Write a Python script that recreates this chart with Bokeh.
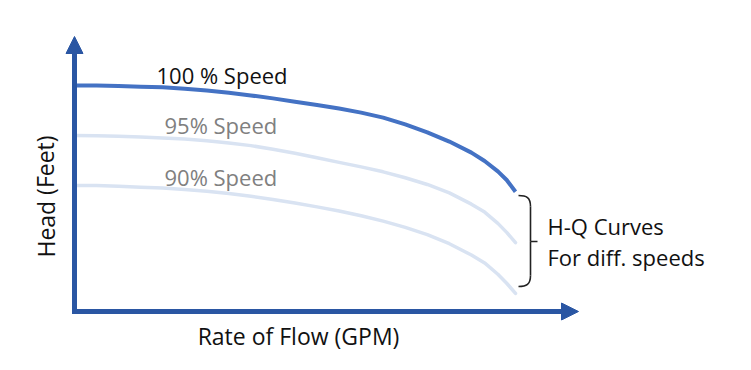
from bokeh.plotting import figure
from bokeh.models import Range1d, Label, Arrow, NormalHead
from bokeh.embed import file_html
from bokeh.resources import INLINE

# ---- data (flow in % of max, head in % of shut-off head at 100 % speed) ----
flow = [0, 5, 10, 15, 20, 25, 30, 35, 40, 45, 50, 55, 60, 65, 70, 75, 80, 85, 90, 93, 96, 98, 100]
head_100 = [100.0, 99.95, 99.8, 99.5, 99.2, 98.6, 97.8, 96.8, 95.6, 94.3, 92.8, 91.4, 89.8,
            88.0, 85.8, 82.8, 79.3, 75.2, 70.3, 66.6, 62.0, 58.2, 53.0]
head_95 = [77.9, 77.8, 77.5, 77.2, 76.8, 76.3, 75.6, 74.6, 73.4, 71.8, 70.0, 68.0, 66.0,
           64.0, 61.8, 59.2, 56.2, 52.5, 47.5, 44.0, 39.0, 35.0, 30.5]
head_90 = [55.8, 55.7, 55.4, 55.0, 54.6, 54.0, 53.2, 52.2, 51.0, 49.6, 48.0, 46.3, 44.5,
           42.4, 40.0, 37.2, 34.0, 30.0, 25.0, 21.5, 16.5, 12.5, 8.0]
curve_labels = ["100 % Speed", "95% Speed", "90% Speed"]
x_title = "Rate of Flow (GPM)"
y_title = "Head (Feet)"
note_lines = ["H-Q Curves", "For diff. speeds"]

FONT = "Open Sans"
AXIS_C = "#2A56A3"
MAIN_C = "#4472C4"
LIGHT_C = "#D9E3F2"
TXT_DY = 9  # renderer places the alphabetic baseline this much lower

# helpers: convert reference picture pixels into data units for decorations
def fx(px):
    return (px - 74) / 4.41

def fy(py):
    return (311 - py) / 2.26

W, H = 735, 354
p = figure(width=W, height=H, output_backend="svg", toolbar_location=None,
           x_range=Range1d(fx(0), fx(W)), y_range=Range1d(fy(H), fy(0)),
           min_border=0, outline_line_color=None)
p.axis.visible = False
p.grid.visible = False
p.background_fill_color = "white"
p.border_fill_color = "white"

# curves
p.line(flow, head_90, line_color=LIGHT_C, line_width=3.5, line_cap="round", line_join="round")
p.line(flow, head_95, line_color=LIGHT_C, line_width=3.5, line_cap="round", line_join="round")
p.line(flow, head_100, line_color=MAIN_C, line_width=4, line_join="round")

# axes with arrow heads
x_tip, y_tip = fx(578), fy(36)
p.line([0, 0, fx(566)], [fy(52), 0, 0], line_color=AXIS_C, line_width=5, line_join="miter")
p.add_layout(Arrow(end=NormalHead(size=17, fill_color=AXIS_C, line_color=AXIS_C, line_width=1),
                   x_start=0, y_start=fy(60), x_end=0, y_end=y_tip,
                   line_alpha=0))
p.add_layout(Arrow(end=NormalHead(size=17, fill_color=AXIS_C, line_color=AXIS_C, line_width=1),
                   x_start=fx(560), y_start=0, x_end=x_tip, y_end=0,
                   line_alpha=0))

# curly brace
p.bezier(x0=[fx(518), fx(530), fx(530), fx(530)],
         y0=[fy(195), fy(206), fy(241), fy(275)],
         x1=[fx(530), fx(530), fx(530), fx(518)],
         y1=[fy(206), fy(241), fy(275), fy(286)],
         cx0=[fx(526), fx(530), fx(530), fx(530)],
         cy0=[fy(195), fy(232), fy(241), fy(284)],
         cx1=[fx(530), fx(530), fx(530), fx(526)],
         cy1=[fy(197), fy(241), fy(250), fy(286)],
         line_color="#222222", line_width=1.6)
p.segment(x0=[fx(530)], y0=[fy(241)], x1=[fx(537)], y1=[fy(241)],
          line_color="#222222", line_width=1.4)

def lab(txt, px, py, size, color, angle=0, align="left"):
    if angle:
        px -= TXT_DY
    else:
        py -= TXT_DY
    p.add_layout(Label(x=fx(px), y=fy(py), text=txt, text_font=FONT,
                       text_font_size=f"{size}px", text_color=color,
                       text_baseline="alphabetic", text_align=align, angle=angle))

lab(curve_labels[0], 156, 83, 22, "#111111")
lab(curve_labels[1], 164, 133, 22, "#808080")
lab(curve_labels[2], 164, 185, 22, "#808080")
lab(note_lines[0], 547, 234, 22, "#111111")
lab(note_lines[1], 547, 265, 22, "#111111")
lab(x_title, 298, 344, 23, "#111111", align="center")
lab(y_title, 54, 196, 23, "#111111", angle=1.5708, align="center")

open("out.html", "w").write(file_html(p, INLINE))
